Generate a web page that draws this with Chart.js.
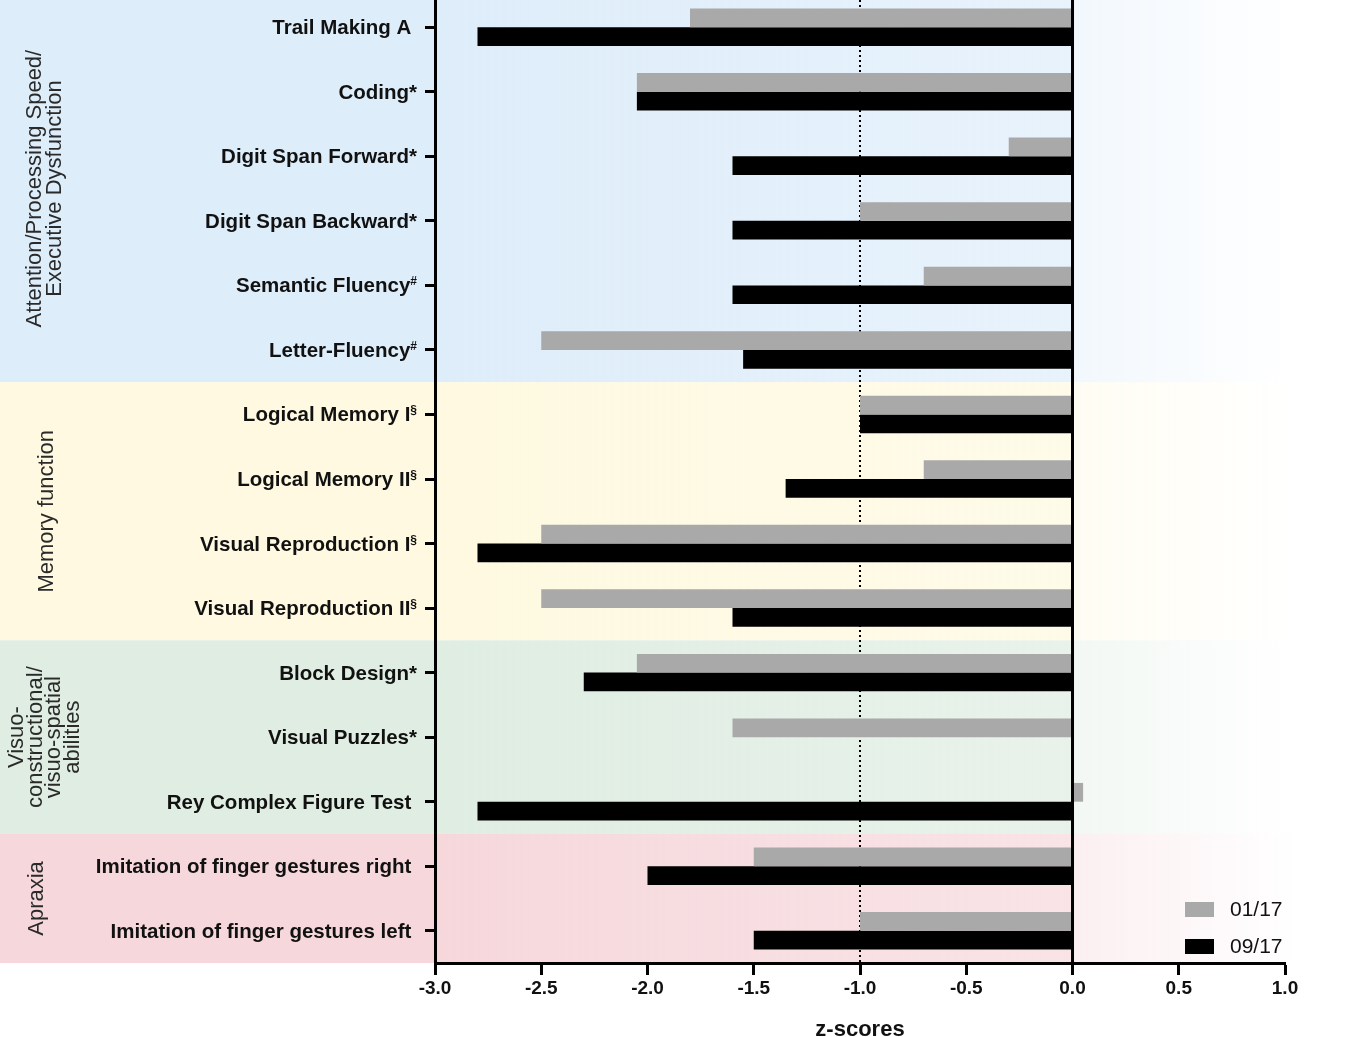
<!DOCTYPE html>
<html>
<head>
<meta charset="utf-8">
<script src="https://cdn.jsdelivr.net/npm/chart.js@4.4.1/dist/chart.umd.min.js"></script>
<style>
  html, body { margin: 0; padding: 0; background: #fff; overflow: hidden; }
  canvas { display: block; margin-top: -5px; }
</style>
</head>
<body>
<canvas id="chart" width="1358" height="1042"></canvas>
<script>
// tests, top to bottom (trailing space kept where the original label had one)
const tests = [
  'Trail Making A ', 'Coding*', 'Digit Span Forward*', 'Digit Span Backward*',
  'Semantic Fluency#', 'Letter-Fluency#', 'Logical Memory I§', 'Logical Memory II§',
  'Visual Reproduction I§', 'Visual Reproduction II§', 'Block Design*', 'Visual Puzzles*',
  'Rey Complex Figure Test ', 'Imitation of finger gestures right ', 'Imitation of finger gestures left '
];
const seriesNames = ['01/17', '09/17'];
const jan17 = [-1.8, -2.05, -0.3, -1.0, -0.7, -2.5, -1.0, -0.7, -2.5, -2.5, -2.05, -1.6, 0.05, -1.5, -1.0];
const sep17 = [-2.8, -2.05, -1.6, -1.6, -1.6, -1.55, -1.0, -1.35, -2.8, -1.6, -2.3, null, -2.8, -2.0, -1.5];

// domain groups
const groupNames = [
  ['Attention/Processing Speed/', 'Executive Dysfunction'],
  ['Memory function'],
  ['Visuo-', 'constructional/', 'visuo-spatial', 'abilities'],
  ['Apraxia']
];
const groupSizes = [6, 4, 3, 2];
const groupColors = [[222, 237, 250], [254, 249, 224], [223, 237, 226], [246, 216, 220]];

const xMin = -3, xMax = 1, xStep = 0.5;
const cutoff = -1;

const FONT = '"Liberation Sans", Arial, sans-serif';
const rgba = (c, a) => `rgba(${c[0]},${c[1]},${c[2]},${a})`;

// background bands + rotated group names
const bandsPlugin = {
  id: 'bands',
  beforeDraw(chart) {
    const { ctx, chartArea, scales: { x, y } } = chart;
    const W = chart.width;
    const zero = x.getPixelForValue(0);
    let start = 0;
    groupSizes.forEach((n, g) => {
      const first = start, last = start + n - 1;
      const top = g === 0 ? 0 : (y.getPixelForValue(first - 1) + y.getPixelForValue(first)) / 2;
      const bottom = g === groupSizes.length - 1 ? chartArea.bottom
        : (y.getPixelForValue(last) + y.getPixelForValue(last + 1)) / 2;
      const c = groupColors[g];
      const grad = ctx.createLinearGradient(0, 0, W, 0);
      grad.addColorStop(0, rgba(c, 1));
      grad.addColorStop(chartArea.left / W, rgba(c, 1));
      grad.addColorStop(zero / W, rgba(c, 0.7));
      grad.addColorStop((zero + 3) / W, rgba(c, 0.4));
      grad.addColorStop(Math.min(1, (chartArea.right + 15) / W), rgba(c, 0));
      grad.addColorStop(1, rgba(c, 0));
      ctx.save();
      ctx.fillStyle = grad;
      ctx.fillRect(0, top, W, bottom - top);

      // group label, rotated
      const lines = groupNames[g];
      const lh = lines.length > 2 ? 18.5 : 20;
      const cx = g === 3 ? 37 : (g === 1 ? 47 : 45);
      const cy = (top + bottom) / 2;
      ctx.translate(cx, cy);
      ctx.rotate(-Math.PI / 2);
      ctx.fillStyle = '#2a2a2a';
      ctx.font = '22px ' + FONT;
      ctx.textAlign = 'center';
      ctx.textBaseline = 'middle';
      lines.forEach((t, i) => {
        ctx.fillText(t, 0, (i - (lines.length - 1) / 2) * lh);
      });
      ctx.restore();
      start += n;
    });
  }
};

// dotted cut-off line under the bars, zero line above them
const refLines = {
  id: 'refLines',
  beforeDatasetsDraw(chart) {
    const { ctx, chartArea, scales: { x } } = chart;
    const px = Math.round(x.getPixelForValue(cutoff));
    ctx.save();
    ctx.strokeStyle = '#000';
    ctx.lineWidth = 2;
    ctx.setLineDash([2, 3]);
    ctx.beginPath();
    ctx.moveTo(px, chartArea.top);
    ctx.lineTo(px, chartArea.bottom);
    ctx.stroke();
    ctx.restore();
  },
  afterDatasetsDraw(chart) {
    const { ctx, chartArea, scales: { x } } = chart;
    const px = x.getPixelForValue(0);
    ctx.save();
    ctx.strokeStyle = '#000';
    ctx.lineWidth = 3;
    ctx.beginPath();
    ctx.moveTo(px, chartArea.top);
    ctx.lineTo(px, chartArea.bottom);
    ctx.stroke();
    ctx.restore();
  }
};

// category labels with superscript markers, and the legend
const labelsPlugin = {
  id: 'labels',
  afterDraw(chart) {
    const { ctx, chartArea, scales: { y } } = chart;
    const right = chartArea.left - 18;
    ctx.save();
    ctx.fillStyle = '#111';
    ctx.textBaseline = 'alphabetic';
    ctx.textAlign = 'right';
    chart.data.labels.forEach((lab, i) => {
      const py = y.getPixelForValue(i) + 7;
      const last = lab.slice(-1);
      if (last === '#' || last === '§') {
        ctx.font = 'bold 12px ' + FONT;
        const sw = ctx.measureText(last).width;
        ctx.fillText(last, right, py - 7);
        ctx.font = 'bold 20.5px ' + FONT;
        ctx.fillText(lab.slice(0, -1), right - sw, py);
      } else {
        ctx.font = 'bold 20.5px ' + FONT;
        ctx.fillText(lab, right, py);
      }
    });

    // legend
    ctx.textAlign = 'left';
    ctx.textBaseline = 'middle';
    ctx.font = '21px ' + FONT;
    chart.data.datasets.forEach((ds, i) => {
      const cy = chartArea.bottom - 53.5 + i * 37;
      ctx.fillStyle = ds.backgroundColor;
      ctx.fillRect(chartArea.right - 100, cy - 7.5, 29, 15);
      ctx.fillStyle = '#111';
      ctx.fillText(ds.label, chartArea.right - 55, cy + 1);
    });
    ctx.restore();
  }
};

new Chart(document.getElementById('chart'), {
  type: 'bar',
  data: {
    labels: tests,
    datasets: [
      { label: seriesNames[0], data: jan17, backgroundColor: '#a9a9a9' },
      { label: seriesNames[1], data: sep17, backgroundColor: '#000000' }
    ]
  },
  options: {
    indexAxis: 'y',
    responsive: false,
    animation: false,
    devicePixelRatio: 1,
    layout: { padding: { left: 0, right: 73, top: 0, bottom: 0 } },
    datasets: { bar: { categoryPercentage: 0.58, barPercentage: 1.0, borderWidth: 0 } },
    plugins: { legend: { display: false }, tooltip: { enabled: false } },
    scales: {
      x: {
        type: 'linear',
        min: xMin,
        max: xMax,
        ticks: {
          stepSize: xStep,
          color: '#111',
          padding: 2,
          font: { family: FONT, size: 19, weight: 'bold' },
          callback: v => Number(v).toFixed(1)
        },
        grid: { drawOnChartArea: false, drawTicks: true, tickLength: 12, tickColor: '#000', tickWidth: 3 },
        border: { display: true, color: '#000', width: 3 },
        title: {
          display: true,
          text: 'z-scores',
          color: '#111',
          font: { family: FONT, size: 22, weight: 'bold', lineHeight: 1 },
          padding: { top: 0, bottom: -4 }
        },
        afterFit(scale) { scale.height = 74; }
      },
      y: {
        ticks: { display: false },
        grid: { offset: false, drawOnChartArea: false, drawTicks: true, tickLength: 10, tickColor: '#000', tickWidth: 3 },
        border: { display: true, color: '#000', width: 3 },
        afterFit(scale) { scale.width = 435; }
      }
    }
  },
  plugins: [bandsPlugin, refLines, labelsPlugin]
});
</script>
</body>
</html>
